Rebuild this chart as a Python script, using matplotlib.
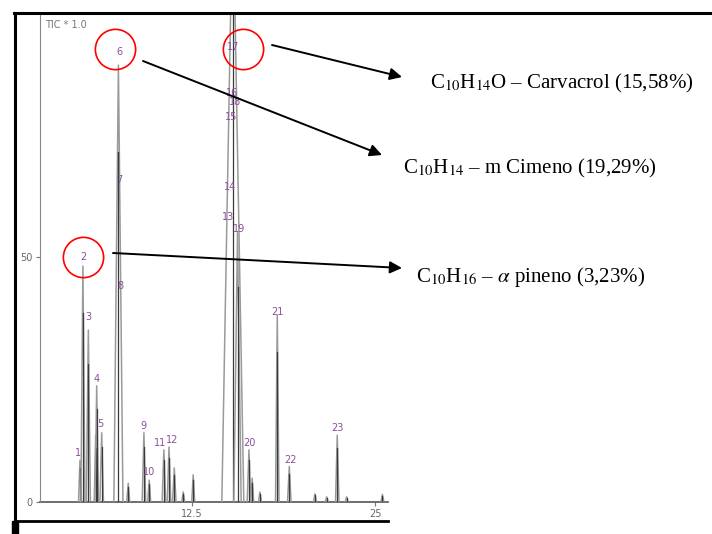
import matplotlib
matplotlib.use("Agg")
import matplotlib.pyplot as plt
from matplotlib.lines import Line2D
from matplotlib.patches import Rectangle

# peak apex (retention time, min), relative height and half base width
peak_t = [4.88, 5.08, 5.45, 5.95, 6.02, 6.36, 7.50, 8.17, 9.24, 9.60, 10.60,
          10.95, 11.31, 11.92, 12.60, 15.30, 15.62, 16.40, 16.62, 17.15, 18.33,
          19.15, 20.90, 21.70, 22.42, 23.06, 25.50]
peak_h = [8.5, 48.2, 35.1, 13.6, 23.7, 14.1, 89.3, 3.8, 14.1, 4.4, 10.6,
          11.2, 6.9, 2.0, 5.5, 125.0, 55.0, 10.6, 4.8, 2.0, 38.2,
          7.2, 1.6, 1.0, 13.6, 1.0, 1.5]
peak_w = [0.10, 0.14, 0.14, 0.10, 0.12, 0.12, 0.31, 0.10, 0.12, 0.10, 0.12,
          0.12, 0.12, 0.10, 0.10, 0.75, 0.25, 0.12, 0.10, 0.10, 0.12,
          0.12, 0.10, 0.10, 0.12, 0.10, 0.10]

# peak numbers as printed on the trace
label_txt = [str(i) for i in range(1, 24)]
label_t = [4.74, 5.09, 5.43, 6.04, 6.24, 7.54, 7.54, 7.61, 9.24, 9.58, 10.36,
           11.16, 14.97, 15.11, 15.17, 15.24, 15.31, 15.45, 15.72, 16.40,
           18.33, 19.20, 22.42]
label_h = [9.9, 50.0, 37.8, 25.1, 15.9, 92.0, 65.8, 44.1, 15.5, 6.1, 12.0,
           12.6, 58.2, 64.4, 78.7, 83.6, 93.0, 81.7, 55.7, 12.1,
           38.7, 8.5, 15.0]

# highlighted peaks (circled) and their identification
circ_t = [7.27, 15.99, 5.10]
circ_h = [92.6, 92.6, 50.1]
notes = [r"C$_{10}$H$_{14}$O – Carvacrol (15,58%)",
         r"C$_{10}$H$_{14}$ – m Cimeno (19,29%)",
         r"C$_{10}$H$_{16}$ – $\alpha$ pineno (3,23%)"]

W, H = 712, 534


def fx(px):
    return px / W


def fy(py):
    return 1 - py / H


fig = plt.figure(figsize=(W / 100, H / 100), dpi=100)
plt.rcParams['mathtext.fontset'] = 'stix'

ax = fig.add_axes([fx(39.5), fy(501.7), (388 - 39.5) / W, (501.7 - 12.7) / H])
ax.set_xlim(2.12, 25.88)
ax.set_ylim(0, 100)

# baseline and peaks
ax.plot([2.12, 25.88], [0, 0], color='#555555', lw=1.2, clip_on=False)
for t, h, w in zip(peak_t, peak_h, peak_w):
    ax.plot([t - w, t, t + w], [0, h, 0], color='#9a9a9a', lw=1.1)
    ax.plot([t, t], [0, 0.8 * h], color='#3a3a3a', lw=0.9)

for s, t, h in zip(label_txt, label_t, label_h):
    ax.text(t, h, s, color='#8a4f9a', fontsize=7, ha='center', va='center')

ax.plot(circ_t, circ_h, 'o', ms=29, mfc='none', mec='red', mew=1.2,
        clip_on=False)

for side in ['top', 'right', 'bottom']:
    ax.spines[side].set_visible(False)
ax.spines['left'].set_color('#888888')
ax.set_yticks([0, 50])
ax.set_xticks([12.5, 25])
ax.set_xticklabels(["12.5", "25"])
ax.tick_params(colors='#777777', labelsize=7, length=3, width=0.8,
               labelcolor='#666666', pad=2)
ax.text(0.015, 0.985, "TIC * 1.0", transform=ax.transAxes, fontsize=7,
        color='#777777', ha='left', va='top')

# outer frame
fig.add_artist(Line2D([fx(14), 1], [fy(13), fy(13)], color='black', lw=2.2,
                      transform=fig.transFigure))
fig.add_artist(Line2D([fx(15), fx(15)], [fy(13), fy(521)], color='black',
                      lw=2.2, transform=fig.transFigure))
fig.add_artist(Line2D([fx(15), fx(388)], [fy(521), fy(521)], color='black',
                      lw=2.0, transform=fig.transFigure))
fig.add_artist(Rectangle((fx(12), 0), 6 / W, 13 / H, color='black',
                         transform=fig.transFigure))

# arrows from peaks to their identification
tails = [(272, 45), (143, 61), (113, 253)]
tips = [(402, 77), (382, 155), (402, 268)]
for (x0, y0), (x1, y1) in zip(tails, tips):
    ax.annotate("", xy=(x1, H - y1), xytext=(x0, H - y0),
                xycoords='figure pixels', textcoords='figure pixels',
                arrowprops=dict(arrowstyle='-|>', color='black', lw=1.4,
                                mutation_scale=18, shrinkA=0, shrinkB=0))

note_pos = [(430, 83), (403, 168), (416, 277)]
for s, (x, y) in zip(notes, note_pos):
    fig.text(fx(x), fy(y), s, fontsize=15, family='Liberation Serif',
             ha='left', va='center')

fig.savefig("out.png", dpi=100)
